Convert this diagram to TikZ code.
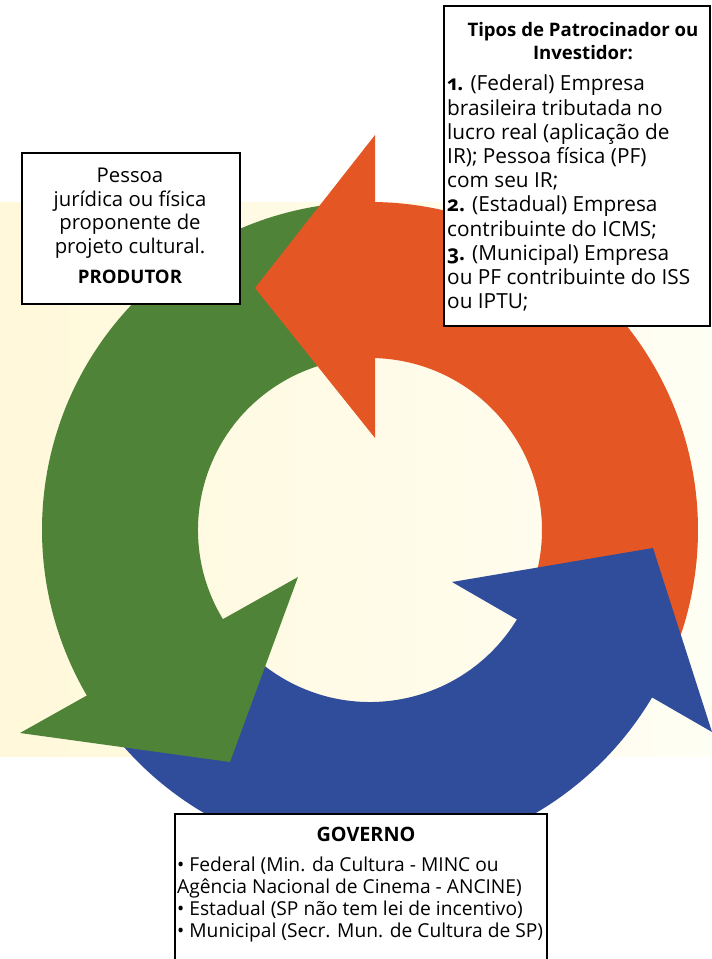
\documentclass[tikz,border=0pt]{standalone}
\usepackage{fontspec}
\setmainfont{Open Sans}
\newfontfamily\oldnum[Numbers=OldStyle]{Open Sans}
\definecolor{orng}{RGB}{228,87,36}
\definecolor{grn}{RGB}{79,131,56}
\definecolor{blu}{RGB}{48,77,155}
\definecolor{ylwA}{RGB}{255,248,218}
\definecolor{ylwB}{RGB}{255,254,244}
\begin{document}
\begin{tikzpicture}[x=1pt,y=1pt,
  infobox/.style={draw=black,line width=1.6pt,fill=white,inner sep=0pt,anchor=north west},
  txt/.style={inner sep=0pt,font=\fontsize{20.3}{23.5}\selectfont},
  btxt/.style={inner sep=0pt,font=\bfseries\fontsize{18.6}{23}\selectfont},
  ttxt/.style={inner sep=0pt,font=\fontsize{20.8}{24.2}\selectfont},
  gtxt/.style={inner sep=0pt,font=\fontsize{19.2}{21.8}\selectfont}]
\useasboundingbox (0,0) rectangle (712,959);
\clip (0,0) rectangle (712,959);
\fill[white] (0,0) rectangle (712,959);
\shade[left color=ylwA,right color=ylwB] (0,202) rectangle (712,756);
% bands
\fill[orng,shift={(370,429)}] (90:328) arc[start angle=90,end angle=-25,radius=328]
  -- (-25:172) arc[start angle=-25,end angle=90,radius=172] -- cycle;
\fill[grn,shift={(370,429)}] (90:328) arc[start angle=90,end angle=212,radius=328]
  -- (212:172) arc[start angle=212,end angle=90,radius=172] -- cycle;
\fill[blu,shift={(370,429)}] (215:328) arc[start angle=215,end angle=331,radius=328]
  -- (331:172) arc[start angle=331,end angle=215,radius=172] -- cycle;
% heads
\fill[orng] (375,824) -- (255,671) -- (375,521) -- cycle;
\fill[grn] (20,226) -- (230,197) -- (298,382) -- cycle;
\fill[blu] (452,377) -- (653,411) -- (712,227) -- cycle;
% boxes
\node[infobox,minimum width=218pt,minimum height=151pt] (prod) at (21,807) {};
\node[infobox,minimum width=266pt,minimum height=320pt] (tipos) at (443,954) {};
\node[infobox,minimum width=372pt,minimum height=170pt] (gov) at (174,146) {};
% texts
\node[txt,align=center,anchor=north] (prodtxt) at (130,791)
  {Pessoa\\jurídica ou física\\proponente de\\projeto cultural.};
\node[btxt,anchor=base] (prodtitle) at (130,675) {PRODUTOR};
\node[btxt,align=center,anchor=north] (tipostitle) at (583,937)
  {Tipos de Patrocinador ou\\Investidor:};
\node[ttxt,align=left,anchor=north west] (tipostxt) at (447,884)
  {\textbf{\oldnum 1.} (Federal) Empresa\\
   brasileira tributada no\\
   lucro real (aplicação de\\
   IR); Pessoa física (PF)\\
   com seu IR;\\
   \textbf{\oldnum 2.} (Estadual) Empresa\\
   contribuinte do ICMS;\\
   \textbf{\oldnum 3.} (Municipal) Empresa\\
   ou PF contribuinte do ISS\\
   ou IPTU;};
\node[btxt,anchor=base,font=\bfseries\fontsize{19.8}{23}\selectfont] (govtitle) at (366,117) {GOVERNO};
\node[gtxt,align=left,anchor=north west] (govtxt) at (177,102)
  {• Federal (Min. da Cultura - MINC ou\\
   Agência Nacional de Cinema - ANCINE)\\
   • Estadual (SP não tem lei de incentivo)\\
   • Municipal (Secr. Mun. de Cultura de SP)};
\end{tikzpicture}
\end{document}
